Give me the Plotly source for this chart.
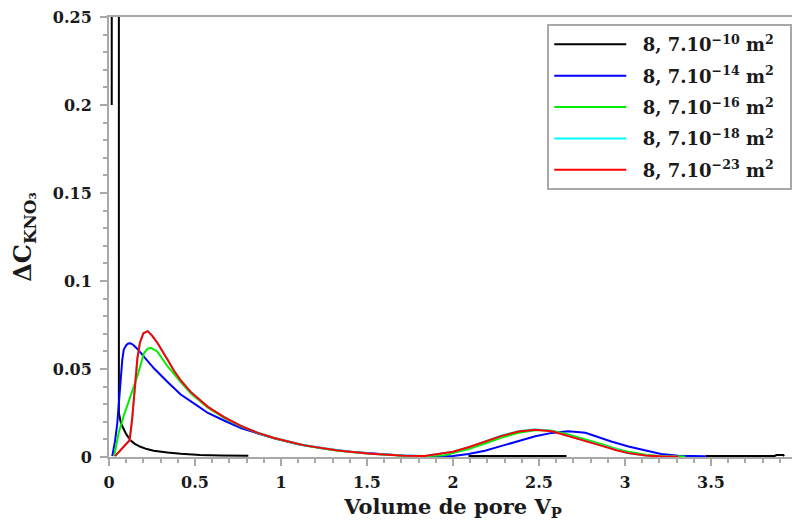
import plotly.graph_objects as go

# ---- data ----
black_x = [0.016, 0.0165, 0.057, 0.0575, 0.07, 0.085, 0.1, 0.125, 0.15, 0.183, 0.22, 0.26, 0.3, 0.34,
           0.417, 0.53, 0.65, 0.81, None, 2.09, 2.66, None, 3.47, 3.87, 3.88, 3.92, 3.925]
black_y = [0.2, 1.0, 1.0, 0.025, 0.019, 0.016, 0.013, 0.0095, 0.0075, 0.0058, 0.0045, 0.0036, 0.003, 0.0025,
           0.0018, 0.0011, 0.0009, 0.0007, None, 0.0005, 0.0005, None, 0.0005, 0.0005, 0.0012, 0.0012, 0.0005]

blue_x = [0.019, 0.035, 0.048, 0.058, 0.067, 0.077, 0.086, 0.1, 0.112, 0.125, 0.14, 0.164, 0.203, 0.261,
          0.339, 0.417, 0.5, 0.575, 0.672, 0.77, 0.866, 0.96, 1.1, 1.25, 1.4, 1.55, 1.7, 1.85, 2.0, 2.09,
          2.186, 2.283, 2.38, 2.478, 2.575, 2.67, 2.77, 2.866, 2.92, 3.02, 3.12, 3.21, 3.31, 3.47]
blue_y = [0.0005, 0.009, 0.019, 0.032, 0.0456, 0.055, 0.061, 0.0635, 0.0645, 0.0646, 0.0638, 0.0615, 0.057,
          0.0504, 0.0428, 0.0355, 0.030, 0.025, 0.0206, 0.0163, 0.0134, 0.0106, 0.0072, 0.0048, 0.003, 0.0017,
          0.0008, 0.0004, 0.0006, 0.0017, 0.0036, 0.0063, 0.0092, 0.0118, 0.0137, 0.0146, 0.0138, 0.0106,
          0.0088, 0.006, 0.0036, 0.0017, 0.0007, 0.0004]

green_x = [0.03, 0.057, 0.086, 0.125, 0.164, 0.203, 0.225, 0.245, 0.28, 0.339, 0.378, 0.417, 0.475, 0.575,
           0.672, 0.77, 0.866, 0.96, 1.136, 1.33, 1.52, 1.72, 1.85, 1.95, 2.0, 2.09, 2.186, 2.283, 2.38,
           2.478, 2.52, 2.575, 2.67, 2.77, 2.866, 2.95, 3.02, 3.12, 3.2, 3.35]
green_y = [0.0005, 0.014, 0.0235, 0.0343, 0.0456, 0.059, 0.0615, 0.062, 0.06, 0.0517, 0.047, 0.0425, 0.0362,
           0.028, 0.0221, 0.0173, 0.0136, 0.0107, 0.0065, 0.0036, 0.0018, 0.0007, 0.0005, 0.001, 0.0022,
           0.0045, 0.0077, 0.011, 0.0138, 0.0152, 0.0153, 0.0149, 0.0128, 0.0101, 0.0072, 0.0046, 0.003,
           0.0013, 0.0006, 0.0003]

cyan_x = [0.035, 0.12, 0.135, 0.15, 0.165, 0.18, 0.2, 0.225, 0.25, 0.28, 0.3, 0.339, 0.378, 0.417, 0.475,
          0.575, 0.672, 0.77, 0.866, 0.96, 1.136, 1.33, 1.52, 1.72, 1.835, 1.93, 2.0, 2.09, 2.186, 2.283,
          2.38, 2.478, 2.575, 2.67, 2.77, 2.866, 2.95, 3.02, 3.12, 3.2, 3.31]
cyan_y = [0.0005, 0.0095, 0.022, 0.04, 0.056, 0.065, 0.0703, 0.0716, 0.0692, 0.0652, 0.0622, 0.0556, 0.0491,
          0.0436, 0.0371, 0.0286, 0.0226, 0.0176, 0.0138, 0.0109, 0.0067, 0.0038, 0.0019, 0.0008, 0.0006,
          0.0018, 0.003, 0.0055, 0.0088, 0.0122, 0.0147, 0.0157, 0.0147, 0.012, 0.0091, 0.0062, 0.0037,
          0.0021, 0.0008, 0.0004, 0.0003]

red_x = [0.035, 0.12, 0.135, 0.15, 0.165, 0.18, 0.2, 0.225, 0.25, 0.28, 0.3, 0.339, 0.378, 0.417, 0.475,
         0.575, 0.672, 0.77, 0.866, 0.96, 1.136, 1.33, 1.52, 1.72, 1.835, 1.93, 2.0, 2.09, 2.186, 2.283,
         2.38, 2.478, 2.575, 2.67, 2.77, 2.866, 2.95, 3.02, 3.12, 3.2, 3.31]
red_y = [0.0005, 0.0095, 0.022, 0.04, 0.056, 0.065, 0.0703, 0.0715, 0.069, 0.065, 0.062, 0.0555, 0.049,
         0.0435, 0.037, 0.0285, 0.0225, 0.0175, 0.0137, 0.0108, 0.0066, 0.0037, 0.0018, 0.0007, 0.0006,
         0.0018, 0.003, 0.0055, 0.0087, 0.012, 0.0145, 0.0155, 0.0146, 0.012, 0.0092, 0.0063, 0.0038,
         0.0022, 0.0008, 0.0004, 0.0003]

series_names = ["8, 7.10<sup>−10</sup> m<sup>2</sup>", "8, 7.10<sup>−14</sup> m<sup>2</sup>",
                "8, 7.10<sup>−16</sup> m<sup>2</sup>", "8, 7.10<sup>−18</sup> m<sup>2</sup>",
                "8, 7.10<sup>−23</sup> m<sup>2</sup>"]
series_colors = ["#000000", "#0000ff", "#00ee00", "#00ffff", "#ff0000"]

x_ticks = [0, 0.5, 1, 1.5, 2, 2.5, 3, 3.5, 4]
x_ticklabels = ["0", "0.5", "1", "1.5", "2", "2.5", "3", "3.5", "4"]
y_ticks = [0, 0.05, 0.1, 0.15, 0.2, 0.25]
y_ticklabels = ["0", "0.05", "0.1", "0.15", "0.2", "0.25"]

FONT = "DejaVu Serif"
GRAY = "#a8a8a8"
TXT = "#1a1a1a"
NB = "\u00a0"

fig = go.Figure()
for i, (xs, ys, name, col) in enumerate(zip([black_x, blue_x, green_x, cyan_x, red_x],
                                            [black_y, blue_y, green_y, cyan_y, red_y],
                                            series_names, series_colors)):
    fig.add_trace(go.Scatter(x=xs, y=ys, mode="lines", name=NB * 2 + "<b>" + name + "</b>" + NB * 2,
                             legendgroup="g%d" % i,
                             line=dict(color=col, width=2), connectgaps=False))

axis_common = dict(showline=True, linecolor=GRAY, linewidth=2, mirror=True,
                   ticks="outside", tickcolor=GRAY, tickwidth=2, ticklen=7,
                   showgrid=False, zeroline=False, automargin=False,
                   ticklabeloverflow="allow",
                   tickfont=dict(family=FONT, size=16, color=TXT))

fig.update_xaxes(range=[0, 4], tickvals=x_ticks, ticktext=["<b>%s</b>" % t for t in x_ticklabels],
                 minor=dict(dtick=0.1, ticks="outside", ticklen=4, tickcolor=GRAY, tickwidth=2),
                 ticklabelstandoff=3,
                 title=dict(text="<b>Volume de pore V<sub>P</sub></b>",
                            font=dict(family=FONT, size=21, color=TXT), standoff=8),
                 **axis_common)
fig.update_yaxes(range=[0, 0.25], tickvals=y_ticks, ticktext=["<b>%s</b>" % t for t in y_ticklabels],
                 minor=dict(dtick=0.01, ticks="outside", ticklen=4, tickcolor=GRAY, tickwidth=2),
                 ticklabelstandoff=5,
                 title=dict(text="<b>ΔC<sub>KNO₃</sub></b>",
                            font=dict(family=FONT, size=24, color=TXT), standoff=16),
                 **axis_common)

# the page adds an 8px body margin, so the figure is drawn 8px smaller and margins offset by 8px
fig.update_layout(
    width=792, height=517,
    margin=dict(l=101, r=3, t=9, b=68),
    plot_bgcolor="white", paper_bgcolor="white",
    font=dict(family=FONT, color=TXT),
    legend=dict(x=0.637, y=0.984, xanchor="left", yanchor="top",
                bordercolor=GRAY, borderwidth=2, bgcolor="white",
                font=dict(family=FONT, size=18, color=TXT),
                itemwidth=72, tracegroupgap=5),
    showlegend=True,
)

fig.write_html("out.html")
